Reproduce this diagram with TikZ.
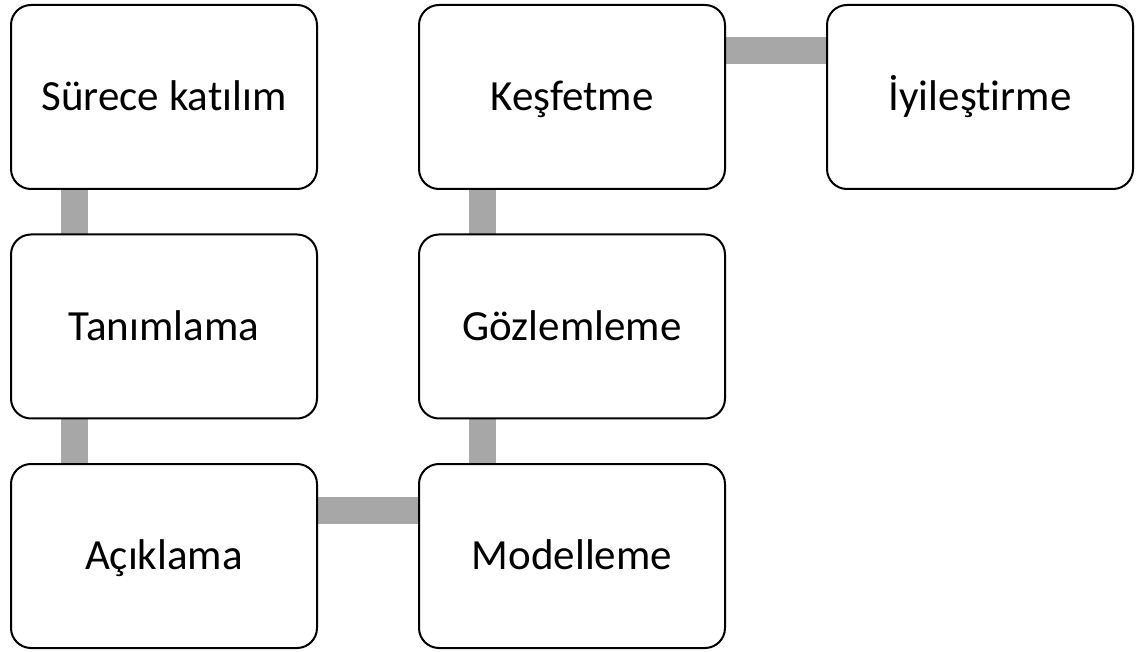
\documentclass[tikz,border=0pt]{standalone}
\usepackage{fontspec}
\setmainfont{Carlito}[Ligatures=NoCommon]
\usepackage{tikz}
\usetikzlibrary{backgrounds, calc, positioning}
\definecolor{ddgray}{RGB}{167,167,167}
\tikzset{
  ddbox/.style={rectangle, draw, line width=2pt, rounded corners=20pt, fill=white,
    minimum width=306pt, minimum height=184pt, outer sep=0pt, inner sep=0pt,
    text height=29.5pt, text depth=2pt, font=\fontsize{43}{51}\selectfont},
  ddlink/.style={draw=ddgray, line width=27pt},
}

\begin{document}
\begin{tikzpicture}[x=1pt, y=1pt]
  \useasboundingbox (0,0) rectangle (1136,-652);
  % First column, top to bottom.
  \node[ddbox] (surec) at (164,-97) {Sürece katılım};
  \node[ddbox, below=45.5pt of surec] (tanim) {Tanımlama};
  \node[ddbox, below=45.5pt of tanim] (acikla) {Açıklama};
  % Second column, bottom to top.
  \node[ddbox, right=102pt of acikla] (model) {Modelleme};
  \node[ddbox, above=45.5pt of model] (gozlem) {Gözlemleme};
  \node[ddbox, above=45.5pt of gozlem] (kesfet) {Keşfetme};
  % Last step.
  \node[ddbox, right=102pt of kesfet] (iyiles) {İyileştirme};

  % Links (behind the boxes).
  \begin{scope}[on background layer]
    \draw[ddlink] ([xshift=63pt]surec.south west) -- ([xshift=63pt]tanim.north west);
    \draw[ddlink] ([xshift=63pt]tanim.south west) -- ([xshift=63pt]acikla.north west);
    \draw[ddlink] ([yshift=-46pt]acikla.north east) -- ([yshift=-46pt]model.north west);
    \draw[ddlink] ([xshift=63pt]model.north west) -- ([xshift=63pt]gozlem.south west);
    \draw[ddlink] ([xshift=63pt]gozlem.north west) -- ([xshift=63pt]kesfet.south west);
    \draw[ddlink] ([yshift=-46pt]kesfet.north east) -- ([yshift=-46pt]iyiles.north west);
  \end{scope}
\end{tikzpicture}
\end{document}
